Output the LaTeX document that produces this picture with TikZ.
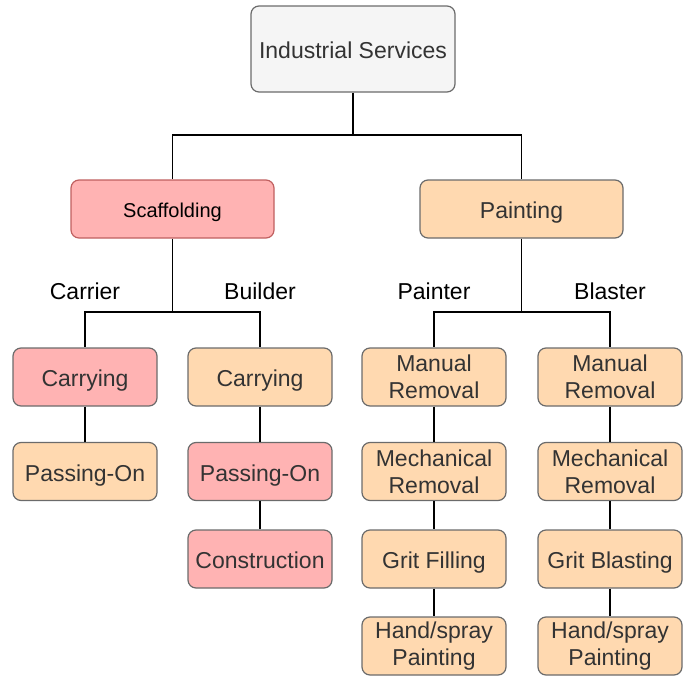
\documentclass[tikz,border=0pt]{standalone}
\usepackage{fontspec}
\setmainfont{Liberation Sans}
\definecolor{grayfill}{HTML}{F5F5F5}
\definecolor{pinkfill}{HTML}{FFB3B3}
\definecolor{orangefill}{HTML}{FFD9B0}
\definecolor{boxline}{HTML}{6B6B6B}
\definecolor{scafline}{HTML}{C06060}
\definecolor{boxtext}{HTML}{333333}
\begin{document}
\begin{tikzpicture}[x=1pt,y=-1pt,
  box/.style={draw=boxline, line width=1.2pt, rounded corners=8pt, align=center,
    text=boxtext, font=\fontsize{23}{27}\selectfont, inner sep=0pt},
  one/.style={text height=19pt, text depth=0pt},
  small/.style={box, minimum width=144pt, minimum height=58pt},
  pinkbox/.style={small, fill=pinkfill},
  orbox/.style={small, fill=orangefill},
  lbl/.style={font=\fontsize{23}{25}\selectfont, text=black, inner sep=0pt},
  conn/.style={draw=black, line width=1.2pt}]
\useasboundingbox (0,0) rectangle (691,680);

\node[box, one, fill=grayfill, minimum width=204pt, minimum height=86pt] (top) at (353,49) {Industrial Services};
\node[box, fill=pinkfill, draw=scafline, text=black, font=\fontsize{20}{22}\selectfont, text height=16pt, text depth=0pt, minimum width=203pt, minimum height=58pt] (scaf) at (172.5,209) {Scaffolding};
\node[box, one, fill=orangefill, minimum width=203pt, minimum height=58pt] (paint) at (521.5,209) {Painting};

\node[pinkbox, one] (c1) at (85,377) {Carrying};
\node[orbox, one] (p1) at (85,471.5) {Passing-On};

\node[orbox, one] (c2) at (260,377) {Carrying};
\node[pinkbox, one] (p2) at (260,471.5) {Passing-On};
\node[pinkbox, one] (k2) at (260,559) {Construction};

\node[orbox] (m3) at (434,377) {Manual\\Removal};
\node[orbox] (e3) at (434,471.5) {Mechanical\\Removal};
\node[orbox, one] (g3) at (434,559) {Grit Filling};
\node[orbox] (h3) at (434,646) {Hand/spray\\Painting};

\node[orbox] (m4) at (610,377) {Manual\\Removal};
\node[orbox] (e4) at (610,471.5) {Mechanical\\Removal};
\node[orbox, one] (g4) at (610,559) {Grit Blasting};
\node[orbox] (h4) at (610,646) {Hand/spray\\Painting};

\node[lbl] (l1) at (85,291) {Carrier};
\node[lbl] (l2) at (260,291) {Builder};
\node[lbl] (l3) at (434,291) {Painter};
\node[lbl] (l4) at (610,291) {Blaster};

\coordinate (j0) at (353,135);
\coordinate (j1) at (172.5,312);
\coordinate (j2) at (521.5,312);

\draw[conn] (top.south) -- (j0);
\draw[conn] (j0) -| (scaf.north);
\draw[conn] (j0) -| (paint.north);

\draw[conn] (scaf.south) -- (j1);
\draw[conn] (j1) -| (c1.north);
\draw[conn] (j1) -| (c2.north);

\draw[conn] (paint.south) -- (j2);
\draw[conn] (j2) -| (m3.north);
\draw[conn] (j2) -| (m4.north);

\draw[conn] (c1) -- (p1);
\draw[conn] (c2) -- (p2);
\draw[conn] (p2) -- (k2);
\draw[conn] (m3) -- (e3);
\draw[conn] (e3) -- (g3);
\draw[conn] (g3) -- (h3);
\draw[conn] (m4) -- (e4);
\draw[conn] (e4) -- (g4);
\draw[conn] (g4) -- (h4);
\end{tikzpicture}
\end{document}
